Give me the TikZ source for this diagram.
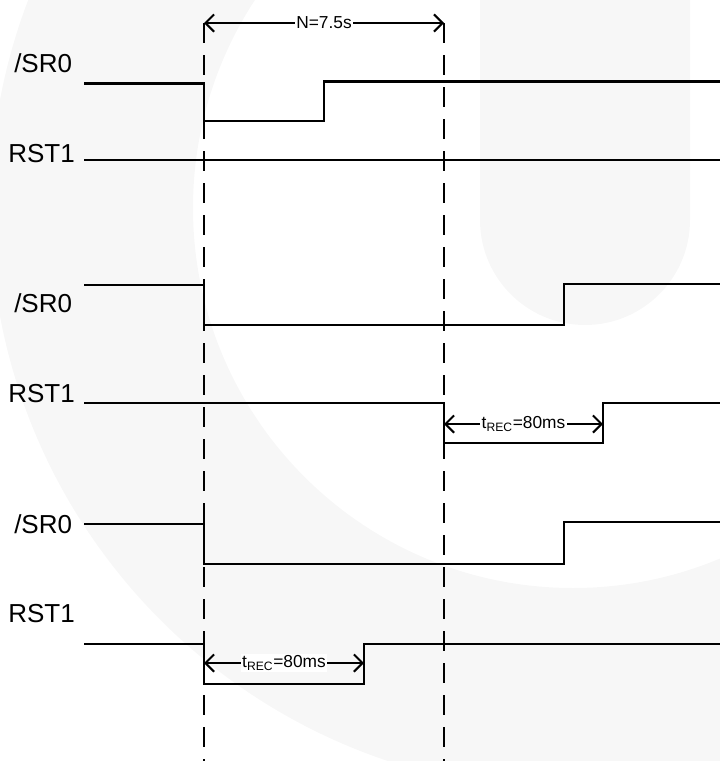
\documentclass[tikz,border=0pt]{standalone}
\usepackage{fontspec}
\setmainfont{Liberation Sans}
\usetikzlibrary{arrows.meta,calc}
\definecolor{wm}{RGB}{247,247,247}
\begin{document}
\begin{tikzpicture}[x=0.75pt,y=-0.75pt,
  sig/.style={line width=1.9pt, line join=miter},
  guide/.style={line width=1.9pt, dash pattern=on 15pt off 9pt},
  dimarrow/.style={line width=1.5pt, {Straight Barb[length=6.5pt,width=13pt]}-{Straight Barb[length=6.5pt,width=13pt]}},
  dimlabel/.style={fill=white, inner sep=1pt, font=\fontsize{13}{15}\selectfont},
  siglabel/.style={anchor=base west, inner sep=0pt, font=\fontsize{19.5}{22}\selectfont}]
\useasboundingbox (0,0) rectangle (720,761);
% watermark
\begin{scope}
  \clip (0,0) rectangle (720,761);
  \fill[wm, even odd rule] (573,208) circle[radius=437.25pt] (573,208) circle[radius=285pt];
  \fill[wm] (480,-5) -- (480,220) arc[start angle=180, end angle=360, radius=78.75pt] -- (690,-5) -- cycle;
\end{scope}
% guide lines
\coordinate (gAtop) at (204,23);
\coordinate (gAbot) at (204,761);
\coordinate (gBtop) at (444,23);
\coordinate (gBbot) at (444,761);
\draw[guide] (gAtop) -- (gAbot);
\draw[guide] (gBtop) -- (gBbot);
% signal labels
\node[siglabel] (l1) at (14,72) {/SR0};
\node[siglabel] (l2) at (8,162) {RST1};
\node[siglabel] (l3) at (14,312) {/SR0};
\node[siglabel] (l4) at (8,402) {RST1};
\node[siglabel] (l5) at (14,533) {/SR0};
\node[siglabel] (l6) at (8,622) {RST1};
% signals
\draw[sig] (84,83.5) -- (204,83.5) -- (204,121) -- (324,121) -- (324,81.5) -- (720,81.5);
\draw[sig] (84,160) -- (720,160);
\draw[sig] (84,285) -- (204,285) -- (204,325) -- (564,325) -- (564,284) -- (720,284);
\draw[sig] (84,403) -- (444,403) -- (444,443) -- (603,443) -- (603,403) -- (720,403);
\draw[sig] (84,524) -- (204,524) -- (204,564) -- (564,564) -- (564,522) -- (720,522);
\draw[sig] (84,644) -- (204,644) -- (204,684) -- (364,684) -- (364,644) -- (720,644);
% dimension arrows
\coordinate (d1a) at (204,23);
\coordinate (d1b) at (444,23);
\coordinate (d2a) at (444,424);
\coordinate (d2b) at (603,424);
\coordinate (d3a) at (204,663);
\coordinate (d3b) at (364,663);
\draw[dimarrow] (d1a) -- (d1b);
\draw[dimarrow] (d2a) -- (d2b);
\draw[dimarrow] (d3a) -- (d3b);
\node[dimlabel] (n1) at ($(d1a)!0.5!(d1b)$) {N=7.5s};
\node[dimlabel] (n2) at ($(d2a)!0.5!(d2b)$) {t\textsubscript{REC}=80ms};
\node[dimlabel] (n3) at ($(d3a)!0.5!(d3b)$) {t\textsubscript{REC}=80ms};
\end{tikzpicture}
\end{document}
